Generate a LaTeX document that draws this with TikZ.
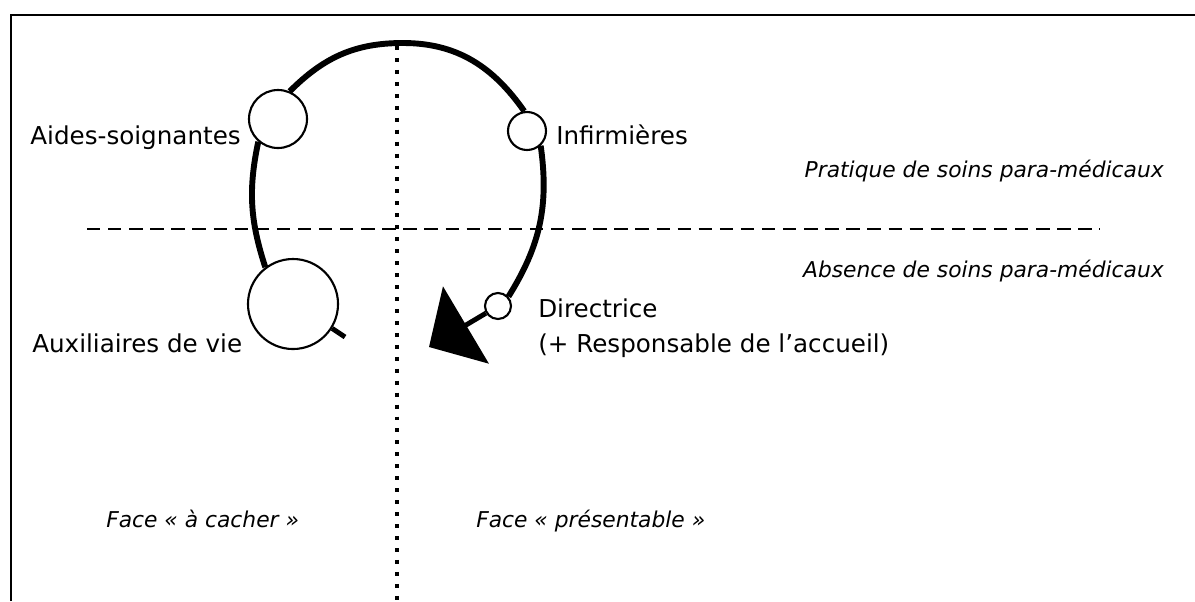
\documentclass[tikz,border=0pt]{standalone}
\usepackage{fontspec}
\setmainfont{DejaVu Sans}
\usetikzlibrary{positioning}
\usetikzlibrary{arrows.meta}

\begin{document}
\begin{tikzpicture}
  [
    x=0.025cm, y=0.025cm,
    post/.style={
       circle,
       draw=black,
       line width=1.5pt,
       fill=white,
       inner sep=0pt
    },
    lbl/.style={
       font=\fontsize{17.5}{20}\selectfont,
       inner sep=0pt
    },
    zone/.style={
       font=\fontsize{15.5}{18}\selectfont\itshape,
       inner sep=0pt
    },
    trail/.style={
       draw=black,
       line width=4.2pt
    }
  ]
  \useasboundingbox (0,0) rectangle (1195,-601);
  \draw [line width=1.4pt] (11,-601) -- (11,-15) -- (1195,-15);
  \draw [line width=2.8pt, dash pattern=on 2.8pt off 5.7pt] (397,-46) -- (397,-601);
  \draw [line width=1.5pt, dash pattern=on 9.5pt off 5.5pt] (87,-229) -- (1100,-229);

  \node (aides) at (278,-119) [post, minimum size=1.45cm] {};
  \node (inf)   at (527,-131) [post, minimum size=0.95cm] {};
  \node (aux)   at (293,-304) [post, minimum size=2.25cm] {};
  \node (dir)   at (498,-306) [post, minimum size=0.65cm] {};
  \coordinate (peak)    at (403,-43);
  \coordinate (auxtick) at (345,-337);
  \coordinate (tip)     at (429,-347);

  \node (aidestxt) at (241,-144) [lbl, anchor=base east] {Aides-soignantes};
  \node (inftxt)   at (556,-144) [lbl, anchor=base west] {Infirmières};
  \node (auxtxt)   at (32,-352)  [lbl, anchor=base west] {Auxiliaires de vie};
  \node (dirtxt)   at (538,-317) [lbl, anchor=base west] {Directrice};
  \node (resptxt)  at (538,-352) [lbl, anchor=base west] {(+ Responsable de l’accueil)};

  \node (soins)    at (1164,-177) [zone, anchor=base east] {Pratique de soins para-médicaux};
  \node (nosoins)  at (1164,-277) [zone, anchor=base east] {Absence de soins para-médicaux};
  \node (cacher)   at (106,-527)  [zone, anchor=base west] {Face « à cacher »};
  \node (montrer)  at (476,-527)  [zone, anchor=base west] {Face « présentable »};

  \draw [trail] (aux.127) to[out=108, in=258] (aides.229);
  \draw [trail] (aides.67) to[out=45, in=180] (peak) to[out=0, in=125] (inf.98);
  \draw [trail] (inf.313) to[out=278, in=58] (dir.42);
  \draw [line width=3.5pt] (aux.-32) -- (auxtick);
  \draw [line width=3.5pt, -{Triangle[length=1.075cm, width=2.225cm]}] (dir) -- (tip);
\end{tikzpicture}
\end{document}
